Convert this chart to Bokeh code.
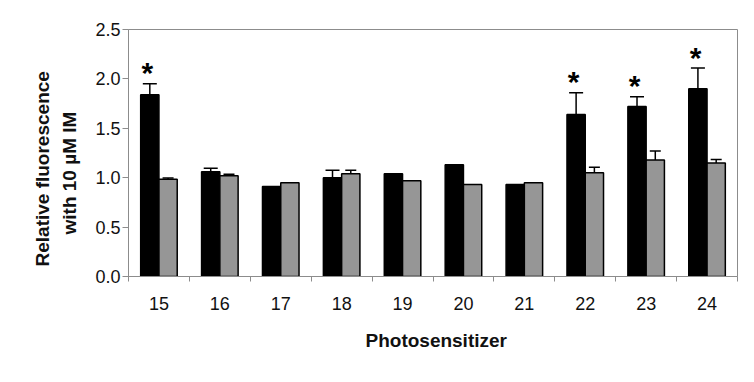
import numpy as np
from bokeh.plotting import figure
from bokeh.models import (Range1d, FixedTicker, Whisker, ColumnDataSource, Title, TeeHead)
from bokeh.core.properties import value
from bokeh.embed import file_html
from bokeh.resources import INLINE

categories = ["15", "16", "17", "18", "19", "20", "21", "22", "23", "24"]
black_vals = [1.84, 1.06, 0.91, 1.00, 1.04, 1.13, 0.93, 1.64, 1.72, 1.90]
black_err = [0.11, 0.035, 0.0, 0.075, 0.0, 0.0, 0.0, 0.22, 0.10, 0.21]
gray_vals = [0.985, 1.02, 0.95, 1.04, 0.97, 0.93, 0.95, 1.05, 1.18, 1.15]
gray_err = [0.012, 0.015, 0.0, 0.035, 0.0, 0.0, 0.0, 0.055, 0.09, 0.035]
significant = [True, False, False, False, False, False, False, True, True, True]
y_ticks = [0.0, 0.5, 1.0, 1.5, 2.0, 2.5]

FONT = "Liberation Sans"
GRAY_AX = "#8c8c8c"

W, H = 738, 366
ML, MR, MT, MB = 128, 1, 29, 86

p = figure(width=W, height=H, output_backend="svg", toolbar_location=None,
           x_range=Range1d(-0.5, len(categories) - 0.5), y_range=Range1d(0, 2.5),
           min_border_left=ML, min_border_right=MR, min_border_top=MT, min_border_bottom=MB)
p.background_fill_color = "white"
p.border_fill_color = "white"
p.outline_line_color = GRAY_AX
p.outline_line_width = 1
p.xgrid.visible = False
p.ygrid.visible = False

x = np.arange(len(categories))
off = 0.15
bw = 0.30

p.vbar(x=x - off, top=black_vals, width=bw, fill_color="black", line_color="black", line_width=1.5)
p.vbar(x=x + off, top=gray_vals, width=bw, fill_color="#969696", line_color="black", line_width=1.5)

def add_whiskers(xs, vals, errs, head):
    xb, up, lo = [], [], []
    for xi, v, e in zip(xs, vals, errs):
        if e > 0:
            xb.append(xi); up.append(v + e); lo.append(v - e)
    src = ColumnDataSource(dict(base=xb, upper=up, lower=lo))
    wk = Whisker(base="base", upper="upper", lower="lower", source=src,
                 line_color="black", line_width=1.5,
                 upper_head=TeeHead(size=head, line_width=1.5, line_color="black"),
                 lower_head=TeeHead(size=head, line_width=1.5, line_color="black"))
    p.add_layout(wk)

add_whiskers(x - off, black_vals, black_err, 14)
add_whiskers(x + off, gray_vals, gray_err, 11)

# significance asterisks
ax, ay = [], []
for xi, v, e, s in zip(x, black_vals, black_err, significant):
    if s:
        ax.append(xi - off - 0.04)
        ay.append(v + e + 0.11)
p.text(x=ax, y=ay, text=["*"] * len(ax), text_font=value(FONT), text_font_style="bold",
       text_font_size="30px", text_align="center", text_baseline="middle", text_color="black")

# x axis
xa = p.xaxis[0]
xa.ticker = FixedTicker(ticks=list(x), minor_ticks=[i - 0.5 for i in range(len(categories) + 1)])
xa.major_label_overrides = {int(i): c for i, c in zip(x, categories)}
xa.major_tick_line_color = None
xa.major_tick_out = 0
xa.minor_tick_out = 5
xa.minor_tick_in = 0
xa.minor_tick_line_color = GRAY_AX
xa.axis_line_color = GRAY_AX
xa.major_label_text_font = FONT
xa.major_label_text_font_size = "18px"
xa.major_label_text_color = "#111111"
xa.major_label_standoff = 15

# y axis
ya = p.yaxis[0]
ya.ticker = FixedTicker(ticks=y_ticks)
ya.major_label_overrides = {t: f"{t:.1f}" for t in y_ticks}
ya.major_tick_out = 6
ya.major_tick_in = 0
ya.minor_tick_line_color = None
ya.major_tick_line_color = GRAY_AX
ya.axis_line_color = GRAY_AX
ya.major_label_text_font = FONT
ya.major_label_text_font_size = "18px"
ya.major_label_text_color = "#111111"
ya.major_label_standoff = 2

# axis titles
tkw = dict(text_font=FONT, text_font_style="bold", text_font_size="19px",
           text_color="#111111", align="left")
p.add_layout(Title(text="Photosensitizer", standoff=31, offset=237, **tkw), "below")
p.add_layout(Title(text="with 10 \u00b5M IM", standoff=25, offset=42, **tkw), "left")
p.add_layout(Title(text="Relative fluorescence", standoff=-17, offset=10, **tkw), "left")

open("out.html", "w").write(file_html(p, INLINE))
